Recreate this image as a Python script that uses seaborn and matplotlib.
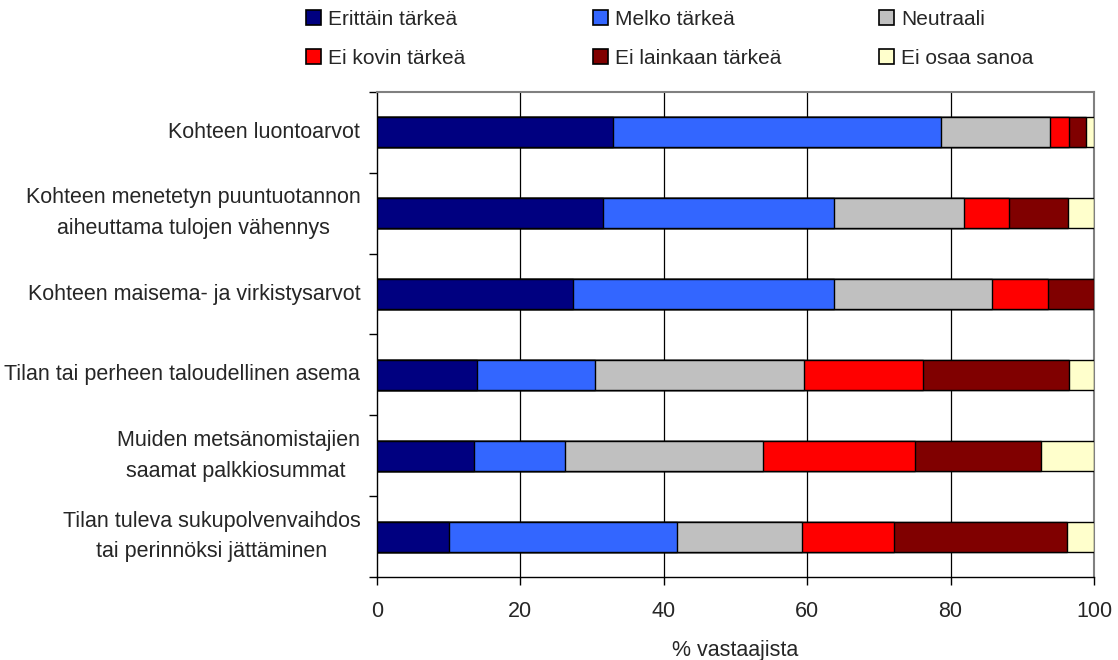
import matplotlib
matplotlib.use("Agg")
import matplotlib.pyplot as plt
import seaborn as sns
import numpy as np
import pandas as pd
from matplotlib.patches import Patch

categories = [
    "Kohteen luontoarvot",
    "Kohteen menetetyn puuntuotannon\naiheuttama tulojen vähennys",
    "Kohteen maisema- ja virkistysarvot",
    "Tilan tai perheen taloudellinen asema",
    "Muiden metsänomistajien\nsaamat palkkiosummat ",
    "Tilan tuleva sukupolvenvaihdos\ntai perinnöksi jättäminen",
]
series_names = ["Erittäin tärkeä", "Melko tärkeä", "Neutraali",
                "Ei kovin tärkeä", "Ei lainkaan tärkeä", "Ei osaa sanoa"]
erittain = [32.9, 31.5, 27.3, 13.9, 13.6, 10.1]
melko = [45.7, 32.3, 36.5, 16.5, 12.6, 31.7]
neutraali = [15.3, 18.1, 22.0, 29.2, 27.6, 17.5]
ei_kovin = [2.6, 6.2, 7.8, 16.5, 21.2, 12.8]
ei_lainkaan = [2.4, 8.3, 6.4, 20.4, 17.6, 24.1]
ei_osaa = [1.1, 3.6, 0.0, 3.5, 7.4, 3.8]
colors = ["#000080", "#3366FF", "#C0C0C0", "#FF0000", "#800000", "#FFFFCC"]
xticks = [0, 20, 40, 60, 80, 100]
xlabel = "% vastaajista"

sns.set_theme(style="white")
plt.rcParams["font.family"] = ["Liberation Sans", "DejaVu Sans"]
FS = 15.5
LFS = 15

fig = plt.figure(figsize=(11.18, 6.6), dpi=100)
ax = fig.add_axes([0.3372, 0.1258, 0.9785 - 0.3372, 0.8606 - 0.1258])

series = [erittain, melko, neutraali, ei_kovin, ei_lainkaan, ei_osaa]
cum = np.cumsum(np.array(series), axis=0)
df = pd.DataFrame({"cat": categories})
for i in range(len(series) - 1, -1, -1):
    df["v"] = cum[i]
    sns.barplot(data=df, x="v", y="cat", orient="y", color=colors[i],
                saturation=1, width=0.37, edgecolor="black", linewidth=1.0,
                ax=ax, zorder=3)

ax.set_xlim(0, 100)
ax.set_ylim(len(categories) - 0.5, -0.5)
ax.set_xticks(xticks)
ax.set_xticklabels([str(t) for t in xticks], fontsize=FS)
ax.set_xlabel(xlabel, fontsize=FS, labelpad=13)
ax.set_ylabel("")
ax.set_yticks(range(len(categories)))
ax.set_yticklabels(categories, fontsize=FS, multialignment="center", linespacing=1.6,
                   va="center")
ax.set_yticks(np.arange(-0.5, len(categories), 1.0), minor=True)
ax.tick_params(axis="y", which="major", length=0, pad=12)
ax.tick_params(axis="y", which="minor", length=6, width=1, color="black", direction="out", left=True)
ax.tick_params(axis="x", which="major", length=6, width=1, color="black", direction="out", bottom=True, pad=11)

for g in [20, 40, 60, 80]:
    ax.axvline(g, color="black", linewidth=0.9, zorder=1)

for s in ["left", "bottom"]:
    ax.spines[s].set_color("black")
    ax.spines[s].set_linewidth(1.0)
for s in ["top", "right"]:
    ax.spines[s].set_color("#808080")
    ax.spines[s].set_linewidth(1.5)
    ax.spines[s].set_visible(True)
ax.grid(False)

# legend: three columns placed at fixed positions
col_x = [306 / 1118, 593 / 1118, 879 / 1118]
for c in range(3):
    idx = [c, c + 3]
    handles = [Patch(facecolor=colors[i], edgecolor="black", linewidth=1.2) for i in idx]
    labels = [series_names[i] for i in idx]
    fig.legend(handles, labels, loc="upper left",
               bbox_to_anchor=(col_x[c], 1 - 10 / 660), bbox_transform=fig.transFigure,
               frameon=False, fontsize=LFS, handlelength=0.72, handleheight=0.72,
               handletextpad=0.33, labelspacing=0.95, borderpad=0, borderaxespad=0)

fig.savefig("out.png", dpi=100)
